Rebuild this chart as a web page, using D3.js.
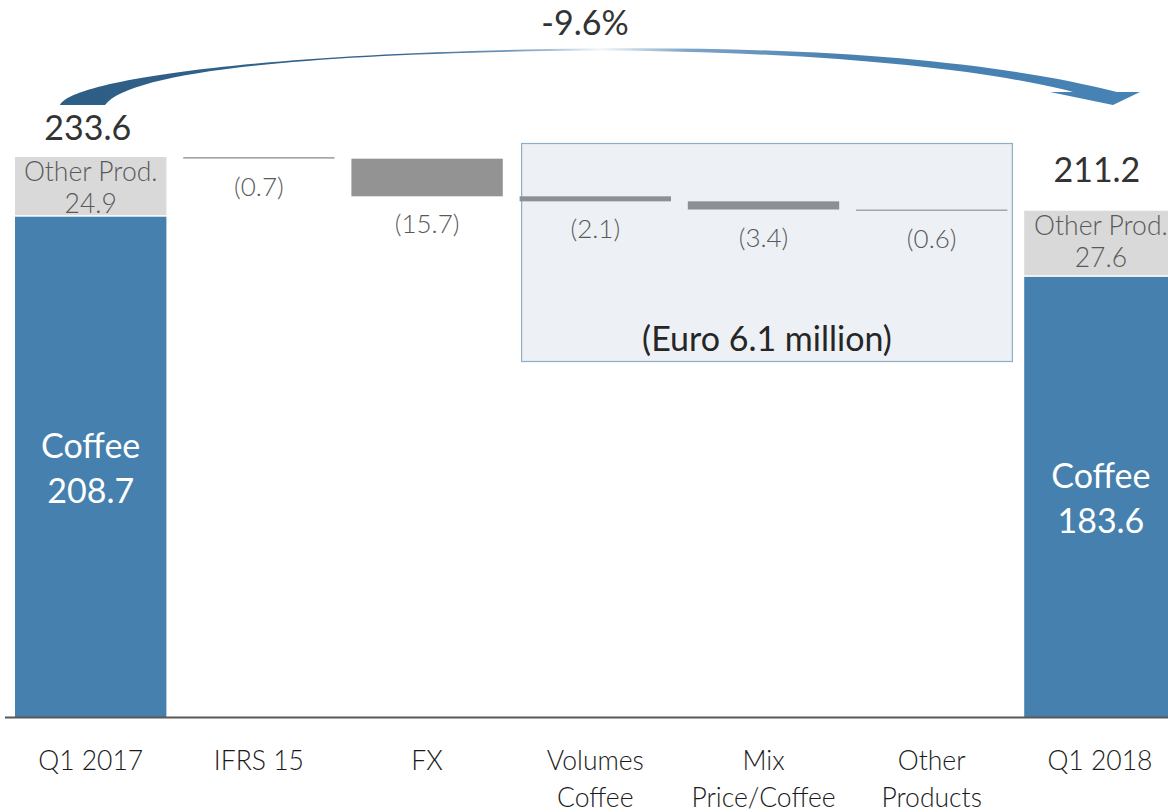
<!DOCTYPE html>
<html><head><meta charset="utf-8">
<script src="https://cdn.jsdelivr.net/npm/d3@7"></script>
<style>html,body{margin:0;padding:0;background:#fff;overflow:hidden}svg{display:block}text{font-family:Lato,"Open Sans",sans-serif}</style>
</head><body>
<svg id="chart" width="1168" height="812"></svg>
<script>
// ---- data ----
const categories = ["Q1 2017","IFRS 15","FX","Volumes Coffee","Mix Price/Coffee","Other Products","Q1 2018"];
const categoryLines = [["Q1 2017"],["IFRS 15"],["FX"],["Volumes","Coffee"],["Mix","Price/Coffee"],["Other","Products"],["Q1 2018"]];
const totalCategories = ["Q1 2017","Q1 2018"];
const coffeeValues = [208.7, 183.6];
const otherProdValues = [24.9, 27.6];
const changeCategories = ["IFRS 15","FX","Volumes Coffee","Mix Price/Coffee","Other Products"];
const changeValues = [-0.7, -15.7, -2.1, -3.4, -0.6];
const growthLabel = "-9.6%";
const boxLabel = "(Euro 6.1 million)";
const boxCategories = ["Volumes Coffee","Other Products"];

// ---- setup ----
const svg = d3.select("#chart");
const W = 1168, H = 812;
const x = d3.scaleBand().domain(categories).range([6.6, 1184]).paddingInner(0.1).paddingOuter(0.05);
const y = d3.scaleLinear().domain([0, 233.6]).range([717, 157]);
const blue = "#4680ae", lightGrey = "#d9d9d9", dropGrey = "#939393";
const LIGHT = 300;

const totals = totalCategories.map((c,i)=>({cat:c, coffee:coffeeValues[i], other:otherProdValues[i], total:+(coffeeValues[i]+otherProdValues[i]).toFixed(1)}));
let running = totals[0].total;
const steps = changeCategories.map((c,i)=>{ const s = running; running = running + changeValues[i]; return {cat:c, start:s, end:running, v:changeValues[i]}; });

// ---- arrow gradient ----
const defs = svg.append("defs");
const g = defs.append("linearGradient").attr("id","arrowGrad").attr("gradientUnits","userSpaceOnUse")
  .attr("x1",60).attr("x2",1140).attr("y1",0).attr("y2",0);
[[0,"#2e5d85"],[0.3,"#33648e"],[0.42,"#7399bb"],[0.5,"#f2f6fa"],[0.58,"#7fa5c8"],[0.72,"#4a81b0"],[1,"#4682b4"]]
  .forEach(([o,c])=>g.append("stop").attr("offset",o).attr("stop-color",c));

// annotation box
const bx0 = x(boxCategories[0]) + 2, bx1 = x(boxCategories[1]) + x.bandwidth() + 5;
svg.append("rect").attr("x",bx0).attr("y",143.5).attr("width",bx1-bx0).attr("height",218)
  .attr("fill","#edf1f5").attr("stroke","#8eaec6").attr("stroke-width",1.2);
svg.append("text").attr("x",(bx0+bx1)/2).attr("y",351).attr("text-anchor","middle")
  .attr("font-size",34).attr("fill","#262626").text(boxLabel);

// total bars
const tg = svg.append("g");
tg.selectAll("rect.coffee").data(totals).join("rect").attr("class","coffee")
  .attr("x",d=>x(d.cat)).attr("width",x.bandwidth())
  .attr("y",d=>y(d.coffee)).attr("height",d=>y(0)-y(d.coffee)).attr("fill",blue);
tg.selectAll("rect.other").data(totals).join("rect").attr("class","other")
  .attr("x",d=>x(d.cat)).attr("width",x.bandwidth())
  .attr("y",d=>y(d.total)).attr("height",d=>y(d.coffee)-y(d.total)-1.5).attr("fill",lightGrey);

// change bars
svg.selectAll("rect.step").data(steps).join("rect").attr("class","step")
  .attr("x",d=>x(d.cat)).attr("width",x.bandwidth())
  .attr("y",d=>y(d.start)).attr("height",d=>Math.max(1.5, y(d.end)-y(d.start)))
  .attr("fill",d=>Math.abs(d.v)<1 ? "#a6a6a6" : (Math.abs(d.v)<5 ? "#8b9095" : dropGrey));
svg.selectAll("text.step").data(steps).join("text").attr("class","step")
  .attr("x",d=>x(d.cat)+x.bandwidth()/2).attr("y",d=>y(d.end)+37)
  .attr("text-anchor","middle").attr("font-size",26).attr("font-weight",LIGHT).attr("fill","#595959")
  .text(d=>"(" + Math.abs(d.v).toFixed(1) + ")");

// total labels
totals.forEach((d,i)=>{
  const cx = x(d.cat)+x.bandwidth()/2 + (i===1?1:0);
  svg.append("text").attr("x",cx - (i===0?3:4)).attr("y", y(d.total) - (i===0?17:29))
    .attr("text-anchor","middle").attr("font-size",34).attr("fill","#333").text(d.total.toFixed(1));
  const oy = y(d.total);
  svg.append("text").attr("x",cx).attr("y",oy+24).attr("text-anchor","middle").attr("font-size",26.5).attr("font-weight",LIGHT).attr("fill","#595959").text("Other Prod.");
  svg.append("text").attr("x",cx).attr("y",oy+56).attr("text-anchor","middle").attr("font-size",26.5).attr("font-weight",LIGHT).attr("fill","#595959").text(d.other.toFixed(1));
  const cyMid = (y(d.coffee)+y(0))/2;
  svg.append("text").attr("x",cx).attr("y",cyMid-9).attr("text-anchor","middle").attr("font-size",34).attr("fill","#fff").text("Coffee");
  svg.append("text").attr("x",cx).attr("y",cyMid+36).attr("text-anchor","middle").attr("font-size",34).attr("fill","#fff").text(d.coffee.toFixed(1));
});

// baseline
svg.append("line").attr("x1",5).attr("x2",W).attr("y1",y(0)+0.5).attr("y2",y(0)+0.5)
  .attr("stroke","#595959").attr("stroke-width",2);

// category labels
const lab = svg.selectAll("text.cat").data(categories).join("text").attr("class","cat")
  .attr("text-anchor","middle").attr("font-size",26.5).attr("font-weight",LIGHT).attr("fill","#1a1a1a");
lab.each(function(c,i){
  const t = d3.select(this);
  categoryLines[i].forEach((ln,j)=>{
    t.append("tspan").attr("x",x(c)+x.bandwidth()/2).attr("y",770+j*37).text(ln);
  });
});

// curved arrow
const arrowPath = "M60,105 C72,80 260,52 590,48.5 C820,46 1000,62 1117,92 L1140,92 L1113,105 L1050,92 L1073,92 C990,70 820,51 590,50.5 C300,53 130,72 105,105 Z";
svg.append("path").attr("d",arrowPath).attr("fill","url(#arrowGrad)");
svg.append("text").attr("x",585).attr("y",35).attr("text-anchor","middle")
  .attr("font-size",34).attr("fill","#333").text(growthLabel);
</script>
</body></html>
